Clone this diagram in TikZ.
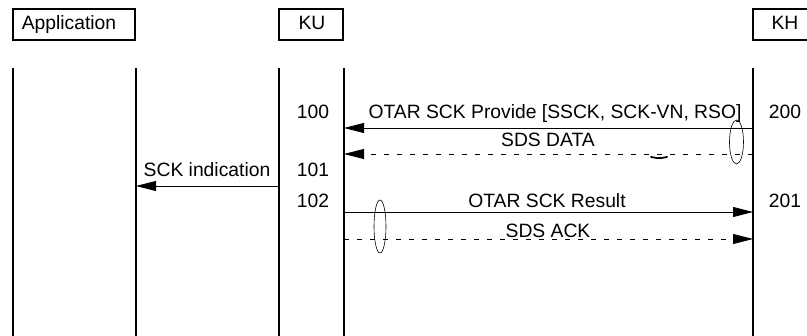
\documentclass[tikz,border=0pt]{standalone}
\usepackage{fontspec}
\setmainfont{Liberation Sans}
\usetikzlibrary{arrows.meta}
\begin{document}
\begin{tikzpicture}[x=1pt,y=-1pt,
  lbl/.style={font=\fontsize{19.3}{21}\selectfont, inner sep=0pt, anchor=base},
  boxst/.style={draw, line width=1.4pt},
  life/.style={line width=2pt},
  msg/.style={line width=0.8pt, -{Triangle[length=20pt,width=10pt]}},
  dmsg/.style={msg, dash pattern=on 5pt off 8pt},
  ell/.style={draw, line width=0.6pt}]
\useasboundingbox (0,0) rectangle (807,336);
% boxes
\draw[boxst] (13,9) rectangle (135,40);
\node[lbl] (app) at (69,30) {Application};
\draw[boxst] (279,9) rectangle (343,40);
\node[lbl] (ku) at (312,30) {KU};
\draw[boxst] (812,9) -- (753,9) -- (753,40) -- (812,40);
\node[lbl] (kh) at (785,30) {KH};
% lifelines
\coordinate (a1t) at (13,68); \coordinate (a1b) at (13,336);
\coordinate (a2t) at (136,68); \coordinate (a2b) at (136,336);
\coordinate (k1t) at (279,68); \coordinate (k1b) at (279,336);
\coordinate (k2t) at (344,68); \coordinate (k2b) at (344,336);
\coordinate (h1t) at (753,68); \coordinate (h1b) at (753,336);
\draw[life] (a1t) -- (a1b);
\draw[life] (a2t) -- (a2b);
\draw[life] (k1t) -- (k1b);
\draw[life] (k2t) -- (k2b);
\draw[life] (h1t) -- (h1b);
% message ends
\coordinate (m1h) at (753,128); \coordinate (m1u) at (344,128);
\coordinate (m2h) at (753,154); \coordinate (m2u) at (344,154);
\coordinate (m3k) at (279,186); \coordinate (m3a) at (136,186);
\coordinate (m4u) at (344,212); \coordinate (m4h) at (753,212);
\coordinate (m5u) at (344,239); \coordinate (m5h) at (753,239);
\draw[msg] (m1h) -- (m1u);
\draw[dmsg] (m2h) -- (m2u);
\draw[msg] (m3k) -- (m3a);
\draw[msg] (m4u) -- (m4h);
\draw[dmsg] (m5u) -- (m5h);
% labels
\node[lbl] (n100) at (313,119) {100};
\node[lbl] (n200) at (785,119) {200};
\node[lbl] (t1) at (555,119) {OTAR SCK Provide [SSCK, SCK-VN, RSO]};
\node[lbl] (t2) at (548,147) {SDS DATA};
\node[lbl] (t3) at (207,177) {SCK indication};
\node[lbl] (n101) at (313,177) {101};
\node[lbl] (n102) at (313,208) {102};
\node[lbl] (t4) at (547,208) {OTAR SCK Result};
\node[lbl] (n201) at (785,208) {201};
\node[lbl] (t5) at (548,238) {SDS ACK};
% ellipses
\draw[ell] (736.5,142) ellipse [x radius=7, y radius=22];
\draw[ell] (380,226.5) ellipse [x radius=6, y radius=26.5];
\draw[line width=1.8pt, line cap=round] (651,157) .. controls (659,158.5) .. (667,157);
\end{tikzpicture}
\end{document}
